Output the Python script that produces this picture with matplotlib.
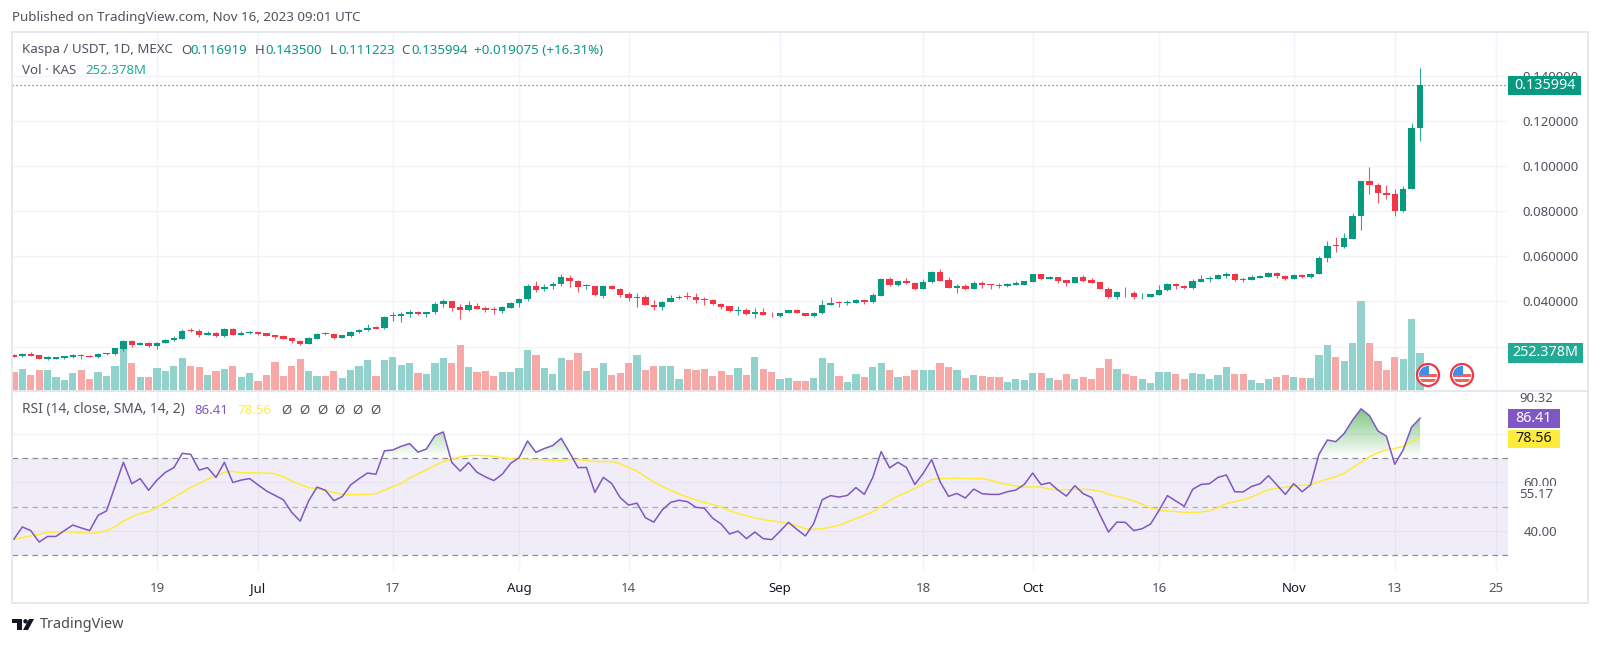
import numpy as np
import matplotlib
matplotlib.use("Agg")
import matplotlib.pyplot as plt
from matplotlib.patches import Rectangle, Circle, Polygon
from matplotlib.path import Path

plt.rcParams['font.family'] = ['Noto Sans', 'DejaVu Sans']

# prices are in units of 0.00001 USDT
open_e5 = [1642,1569,1672,1628,1436,1465,1495,1524,1628,1598,
1524,1657,1687,1894,2249,2071,2160,2027,2160,2308,
2352,2751,2707,2515,2588,2470,2781,2515,2603,2633,
2588,2500,2470,2381,2249,2115,2352,2603,2544,2381,
2470,2648,2721,2869,2810,3342,3342,3431,3534,3446,
3520,3904,4022,3741,3608,3815,3697,3667,3593,3726,
3933,4096,4687,4554,4687,4761,5057,4894,4687,4687,
4259,4687,4554,4318,4155,4185,3860,3756,3978,4170,
4244,4185,4096,4052,3904,3786,3593,3608,3446,3534,
3416,3357,3490,3608,3475,3357,3475,3860,3978,3933,
3948,4066,3978,4259,4983,4717,4894,4806,4554,4850,
5308,4938,4613,4687,4554,4820,4761,4732,4673,4747,
4747,4865,5205,5013,5072,4953,4835,5072,4953,4865,
4569,4200,4436,4362,4229,4214,4288,4510,4776,4702,
4584,4880,4998,4998,5145,5205,4998,4953,5057,5087,
5279,5145,4998,5190,5086,5221,5930,6492,6403,6787,
7777,9329,9152,8827,8753,8014,8989,11692]
high_e5 = [1672,1702,1761,1643,1583,1554,1598,1687,1657,1613,
1716,1716,1953,2293,2293,2219,2204,2204,2322,2470,
2781,2840,2766,2677,2633,2810,2810,2677,2707,2662,
2603,2515,2515,2411,2278,2426,2618,2648,2574,2529,
2692,2795,2987,2928,3357,3534,3520,3623,3579,3549,
3963,4126,4037,3874,4007,3948,3786,3756,3815,3993,
4140,4761,4894,4776,4850,5204,5190,4953,4791,4702,
4717,4732,4598,4406,4362,4273,4066,4007,4273,4288,
4436,4362,4214,4111,3948,3800,3800,3697,3697,3712,
3549,3505,3638,3653,3505,3534,4066,4185,4007,4052,
4126,4126,4362,5027,5071,4924,5027,4865,4983,5337,
5426,5071,4776,4761,4894,4909,4791,4806,4806,4909,
4924,5219,5219,5131,5101,4968,5101,5160,5057,4880,
4658,4466,4628,4466,4392,4347,4717,4821,4806,4747,
4983,5160,5131,5219,5308,5249,5072,5160,5175,5308,
5323,5190,5234,5219,5249,6019,6684,6846,7024,7910,
9344,9950,9241,9152,8975,9108,11916,14350]
low_e5 = [1524,1554,1583,1436,1406,1450,1465,1509,1465,1539,
1509,1642,1628,1805,1982,2056,1997,1909,2145,2263,
2337,2648,2426,2500,2426,2426,2515,2500,2559,2529,
2455,2352,2337,2145,2056,2101,2337,2500,2337,2367,
2426,2618,2692,2766,2795,3150,3091,3313,3401,3313,
3431,3771,3579,3224,3579,3653,3549,3431,3505,3712,
3771,4037,4421,4480,4539,4702,4628,4421,4554,4259,
4155,4539,4214,4022,3756,3845,3623,3623,3963,4096,
4111,3933,3845,3860,3667,3549,3387,3416,3268,3387,
3298,3327,3475,3475,3342,3327,3446,3845,3771,3845,
3933,3874,3948,4244,4687,4702,4776,4510,4539,4820,
4894,4584,4392,4510,4539,4598,4539,4613,4658,4732,
4732,4850,4953,4983,4806,4702,4806,4880,4806,4540,
4170,4111,4214,4111,4111,4200,4274,4466,4540,4554,
4569,4865,4880,4983,5042,4909,4880,4938,5042,5072,
5042,4968,4983,5042,5042,5206,5753,6196,6373,6772,
7186,8768,8354,8561,7807,7985,8975,11122]
close_e5 = [1539,1672,1598,1450,1524,1539,1569,1628,1583,1554,
1672,1702,1923,2249,2071,2175,2027,2175,2293,2381,
2707,2677,2529,2588,2470,2795,2529,2588,2662,2574,
2470,2426,2352,2234,2101,2381,2574,2574,2396,2515,
2662,2751,2825,2795,3327,3401,3446,3534,3446,3534,
3904,4037,3726,3608,3830,3682,3638,3623,3741,3948,
4111,4687,4510,4643,4791,5071,4894,4658,4717,4273,
4687,4569,4303,4140,4199,3860,3771,3993,4155,4199,
4214,4066,4066,3904,3771,3564,3623,3446,3534,3416,
3387,3490,3608,3490,3372,3490,3860,3948,3948,3978,
4066,3978,4273,4983,4732,4894,4806,4554,4850,5308,
4924,4613,4687,4554,4820,4732,4717,4687,4776,4806,
4909,5205,4998,5086,4909,4835,5072,4924,4835,4554,
4214,4421,4406,4214,4259,4333,4525,4776,4687,4599,
4909,4998,5042,5160,5205,4953,4968,5072,5116,5279,
5145,4998,5190,5086,5234,5945,6462,6447,6817,7792,
9329,9152,8827,8738,8029,8989,11692,13599]
# volume in millions of KAS
volume_m = [121,146,103,135,139,90,70,115,135,77,
121,97,164,281,184,90,90,152,132,164,
215,164,157,103,128,146,164,90,115,63,
103,190,97,164,210,128,97,97,128,83,
135,164,204,97,204,221,170,184,115,108,
184,215,184,301,157,121,128,97,121,121,
152,270,239,152,108,215,204,250,128,152,
184,103,115,184,239,139,164,164,164,77,
146,135,146,97,128,103,152,103,221,146,
121,77,83,63,63,83,215,184,97,57,
108,90,157,184,139,90,97,135,139,139,
184,157,139,83,103,97,90,90,57,77,
70,115,115,83,70,108,77,90,77,152,
208,143,108,97,77,50,121,121,108,77,
115,108,77,103,157,108,108,70,50,77,
90,103,90,83,83,239,301,221,197,315,
600,315,197,135,221,208,475,252.378]
rsi = [36.7,41.7,40.2,35.5,37.8,37.8,40.2,42.5,41.3,40.2,
46.5,48.3,58.3,68.3,59.5,61.6,56.8,61.0,64.2,66.1,
72.0,71.6,65.1,66.1,62.1,68.3,60.0,61.0,61.6,59.0,
56.5,54.7,52.9,47.7,44.1,52.4,58.1,56.8,52.5,54.2,
59.0,61.6,63.9,63.4,73.0,73.4,74.9,76.0,72.5,73.8,
79.3,80.8,68.3,64.7,68.2,64.2,62.3,60.8,63.4,67.9,
70.2,77.1,72.4,74.0,75.2,78.2,72.3,66.1,66.2,55.9,
62.1,59.6,53.8,50.7,51.5,45.5,43.7,48.7,51.8,52.7,
52.1,49.8,49.4,45.3,42.9,38.8,40.0,36.9,39.6,36.9,
36.5,40.0,43.6,40.7,38.0,43.2,52.9,54.6,54.0,54.7,
57.9,55.1,62.0,72.7,66.0,68.3,66.2,59.2,63.8,69.4,
60.3,54.3,55.5,53.6,57.3,55.4,55.1,55.1,56.2,56.9,
59.2,63.9,59.1,59.9,56.9,54.4,58.7,55.4,53.8,46.6,
39.6,43.7,43.6,40.2,41.0,42.9,48.5,54.6,52.4,50.2,
57.2,59.2,59.5,62.1,63.1,56.2,56.1,58.4,59.5,62.8,
59.0,55.1,59.5,56.2,59.0,71.6,77.5,76.8,80.2,85.7,
90.32,87.5,81.2,79.1,67.5,73.4,82.8,86.41]
rsi_sma = [36.5,37.3,38.0,38.7,39.4,39.6,39.8,39.6,39.4,39.1,
39.4,40.2,41.8,44.1,45.9,47.2,48.1,49.8,51.8,53.9,
55.9,58.0,59.6,61.4,62.7,64.2,64.6,64.0,64.0,63.9,
63.9,63.6,62.4,60.6,59.2,57.9,57.5,56.8,55.9,55.1,
55.0,55.0,55.1,55.5,56.9,58.3,59.6,61.7,63.6,65.3,
66.9,68.6,69.5,70.5,71.0,71.2,71.0,70.8,70.2,69.7,
69.7,69.5,69.4,69.3,69.1,69.0,69.4,69.4,69.0,68.7,
68.6,68.6,67.7,66.2,64.7,62.4,60.2,58.4,56.8,55.3,
54.0,52.8,51.8,51.0,49.8,48.4,47.3,46.3,45.4,44.7,
44.3,43.7,43.0,42.2,41.0,40.7,41.0,41.7,42.4,43.7,
45.1,46.5,47.9,50.2,52.5,54.4,55.9,57.6,59.4,61.2,
61.6,61.7,61.8,61.7,61.6,61.6,61.0,59.8,59.2,58.6,
58.0,58.3,58.1,57.3,57.0,57.0,57.2,57.2,57.0,56.4,
55.1,54.3,53.5,52.4,51.0,49.5,48.7,48.3,48.0,47.7,
47.7,47.9,48.3,49.6,51.3,52.1,52.9,54.0,55.5,57.0,
57.7,58.0,58.6,58.8,59.1,60.3,61.4,62.4,63.8,66.1,
68.3,70.6,72.2,73.4,74.0,74.9,76.8,78.56]
time_ticks = [17, 29, 45, 60, 73, 91, 108, 121, 136, 152, 164, 176]
time_labels = ["19", "Jul", "17", "Aug", "14", "Sep", "18", "Oct", "16", "Nov", "13", "25"]
month_labels = ["Jul", "Aug", "Sep", "Oct", "Nov"]
price_ticks = [0.02, 0.04, 0.06, 0.08, 0.10, 0.12, 0.14]
rsi_ticks = [40, 60]
last_close = 0.135994

UP, DOWN = "#089981", "#f23645"
VUP, VDOWN = "#92d2cc", "#f7a9a7"
GRID = "#f2f4fa"
BORDER = "#e4e6ee"
TEXT = "#50535e"
FS = 9.5

W, H = 1600, 645
fig = plt.figure(figsize=(W / 100, H / 100), dpi=100, facecolor="white")


def add_ax(x0, y0, x1, y1, z):
    a = fig.add_axes([x0 / W, 1 - y1 / H, (x1 - x0) / W, (y1 - y0) / H], zorder=z)
    a.patch.set_alpha(0)
    for s in a.spines.values():
        s.set_visible(False)
    return a


xs = np.arange(len(close_e5))
o, h, l, c = [np.array(v) * 1e-5 for v in (open_e5, high_e5, low_e5, close_e5)]
up = c >= o
XLIM = (-0.226, 177.45)

# grid + price scale
ax_g = add_ax(12, 32, 1508, 390.5, 1)
ax_g.set_xlim(*XLIM)
ax_g.set_ylim(0.00053, 0.15951)
ax_g.set_xticks(time_ticks)
ax_g.set_yticks(price_ticks)
ax_g.set_yticklabels([f"{t:.6f}" for t in price_ticks], fontsize=FS, color=TEXT)
ax_g.yaxis.tick_right()
ax_g.tick_params(axis="y", length=0, pad=10)
ax_g.tick_params(axis="x", length=0, labelbottom=False)
ax_g.grid(True, color=GRID, lw=1)
ax_g.set_axisbelow(True)

# volume
ax_v = add_ax(12, 32, 1508, 390.5, 2)
ax_v.set_xlim(*XLIM)
ax_v.set_ylim(0, 2395)
ax_v.set_xticks([]); ax_v.set_yticks([])
ax_v.bar(xs, volume_m, width=0.86, color=[VUP if u else VDOWN for u in up], linewidth=0)

# candles
ax_p = add_ax(12, 32, 1508, 390.5, 3)
ax_p.set_xlim(*XLIM)
ax_p.set_ylim(0.00053, 0.15951)
ax_p.set_xticks([]); ax_p.set_yticks([])
cols = [UP if u else DOWN for u in up]
ax_p.vlines(xs, l, h, colors=cols, lw=0.8, alpha=0.85)
ax_p.bar(xs, np.maximum(np.abs(c - o), 0.0002), bottom=np.minimum(o, c), width=0.76, color=cols, linewidth=0, zorder=3)
ax_p.axhline(last_close, color=UP, lw=0.9, ls=(0, (1, 2.2)))

# RSI pane
ax_r = add_ax(12, 391, 1508, 571, 2)
ax_r.set_xlim(*XLIM)
ax_r.set_ylim(23.58, 97.65)
ax_r.axhspan(30, 70, color="#7e57c2", alpha=0.10, lw=0)
ax_r.set_xticks(time_ticks)
ax_r.set_xticklabels(time_labels, fontsize=FS, color=TEXT)
for t in ax_r.get_xticklabels():
    if t.get_text() in month_labels:
        t.set_fontweight("bold")
        t.set_color("#131722")
ax_r.set_yticks([40, 60, 80])
ax_r.set_yticklabels(["40.00", "60.00", ""], fontsize=FS, color=TEXT)
ax_r.yaxis.tick_right()
ax_r.tick_params(axis="y", length=0, pad=11)
ax_r.tick_params(axis="x", length=0, pad=8)
ax_r.grid(True, color=GRID, lw=1)
ax_r.set_axisbelow(True)
for lev, al in ((70, 0.85), (50, 0.55), (30, 0.85)):
    ax_r.axhline(lev, color="#787b86", lw=0.9, ls=(0, (4.5, 3.5)), alpha=al)
r_arr = np.array(rsi)
poly = ax_r.fill_between(xs, 70, r_arr, where=r_arr >= 70, interpolate=True, color="none", lw=0)
clip = Path.make_compound_path(*poly.get_paths())
grad = np.zeros((256, 2, 4))
grad[..., 0], grad[..., 1], grad[..., 2] = 76 / 255, 175 / 255, 80 / 255
grad[..., 3] = np.linspace(0.72, 0.0, 256)[:, None]
im = ax_r.imshow(grad, extent=[XLIM[0], XLIM[1], 70, 90.5], origin="upper", aspect="auto", zorder=1.5, interpolation="bilinear")
im.set_clip_path(clip, transform=ax_r.transData)
ax_r.set_xlim(*XLIM)
ax_r.set_ylim(23.58, 97.65)
ax_r.plot(xs, rsi_sma, color="#ffeb3b", lw=1.1, zorder=3)
ax_r.plot(xs, rsi, color="#7e57c2", lw=1.1, zorder=4)

# overlay in pixel coordinates for frame, captions and tags
ov = fig.add_axes([0, 0, 1, 1], zorder=10)
ov.set_xlim(0, W); ov.set_ylim(H, 0)
ov.axis("off")
ov.patch.set_alpha(0)
ov.plot([12, 12, 1588, 1588, 12], [32, 603, 603, 32, 32], color=BORDER, lw=1.3, solid_joinstyle="miter")
ov.plot([12, 1588], [390.5, 390.5], color=BORDER, lw=1.3)


def txt(x, y, s, color=TEXT, ha="left", fs=FS, **kw):
    ov.text(x, y, s, color=color, ha=ha, va="center", fontsize=fs, **kw)


txt(12, 18, "Published on TradingView.com, Nov 16, 2023 09:01 UTC", fs=9.6)
txt(22, 50, "Kaspa / USDT, 1D, MEXC", fs=9.6)
for xl, letter, xv, val in ((181, "O", 190, "0.116919"), (255, "H", 265, "0.143500"),
                            (330, "L", 338, "0.111223"), (401, "C", 411, "0.135994")):
    txt(xl, 50, letter)
    txt(xv, 50, val, color=UP)
txt(474, 50, "+0.019075 (+16.31%)", color=UP, fs=9.6)
txt(22, 70, "Vol · KAS", fs=9.6)
txt(85, 70, "252.378M", color="#22ab94")
txt(22, 410, "RSI (14, close, SMA, 14, 2)", fs=9.9)
txt(194, 410, "86.41", color="#7e57c2")
txt(237, 410, "78.56", color="#ffeb3b")
for xz in (281, 299, 317, 334, 352, 370):
    txt(xz, 410, "Ø")
txt(40, 625, "TradingView", color="#4a4c55", fs=10.4)


def tag(x0, x1, y0, y1, color, s, tc="white", weight="normal"):
    ov.add_patch(Rectangle((x0, y0), x1 - x0, y1 - y0, color=color, lw=0, zorder=5))
    ov.text((x0 + x1) / 2, (y0 + y1) / 2, s, color=tc, ha="center", va="center", fontsize=FS + 0.8, zorder=6, fontweight=weight)


tag(1508, 1581, 75.7, 95, UP, "0.135994", weight="medium")
tag(1508, 1583, 343, 363, "#22ab94", "252.378M", weight="medium")
tag(1508, 1560, 409, 428, "#7e57c2", "86.41", weight="medium")
tag(1508, 1560, 429.7, 448, "#ffeb3b", "78.56", tc="#131722")
ov.add_patch(Rectangle((1510, 485.5), 60, 19, color="white", lw=0, zorder=5))
ov.text(1519, 495, "55.17", color=TEXT, ha="left", va="center", fontsize=FS, zorder=6)
ov.text(1519, 399, "90.32", color=TEXT, ha="left", va="center", fontsize=FS, zorder=6)

# event flags
for cx in (1428, 1462):
    cy = 375
    disc = Circle((cx, cy), 11, fc="white", ec="#f23645", lw=1.6, zorder=7)
    ov.add_patch(disc)
    inner = Circle((cx, cy), 9, transform=ov.transData)
    for yy in (cy + 0.5, cy + 5):
        s = Rectangle((cx - 10, yy - 1.5), 20, 3, color="#f4605e", lw=0, zorder=8)
        ov.add_patch(s)
        s.set_clip_path(inner)
    b = Rectangle((cx - 9.5, cy - 9), 10, 9, color="#3d8fe8", lw=0, zorder=9)
    ov.add_patch(b)
    b.set_clip_path(inner)

# TradingView mark
ov.add_patch(Polygon([(12, 619), (22, 619), (22, 630), (17, 630), (17, 623), (12, 623)], color="#131722", lw=0))
ov.add_patch(Circle((25.5, 621.3), 2.2, color="#131722", lw=0))
ov.add_patch(Polygon([(29, 619), (34, 619), (28, 630), (23, 630)], color="#131722", lw=0))

fig.savefig("out.png", dpi=100)
